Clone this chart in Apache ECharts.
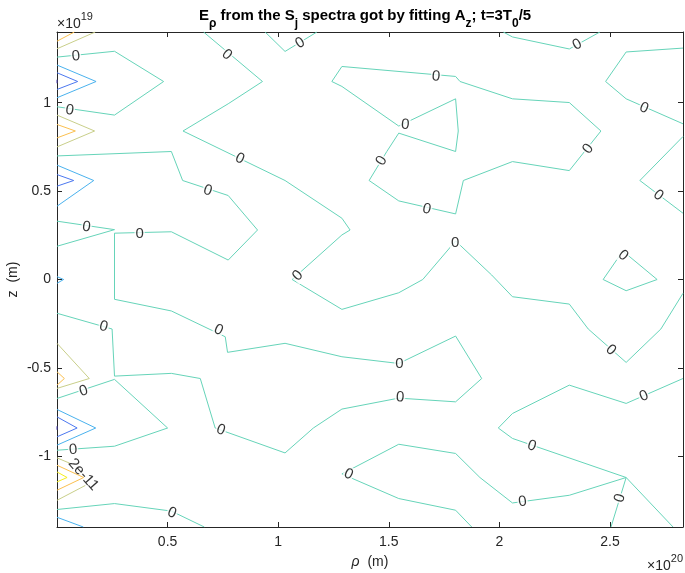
<!DOCTYPE html>
<html>
<head>
<meta charset="utf-8">
<script src="https://cdn.jsdelivr.net/npm/echarts@6/dist/echarts.min.js"></script>
<style>
  html, body { margin: 0; padding: 0; background: #fff; }
  #main { width: 685px; height: 573px; }
</style>
</head>
<body>
<div id="main"></div>
<script>
// contour polylines, rho in 1e20 m, z in 1e19 m
var zeroLines = [
    [[0, 1.258], [0.26, 1.291], [0.482, 1.12], [0.26, 0.930], [0, 0.977]],
    [[0, 0.699], [0.517, 0.724], [0.568, 0.56], [0.774, 0.475], [0.9065, 0.28], [0.774, 0.110], [0.517, 0.27],
     [0.26, 0.262], [0.26, -0.112], [0.517, -0.178], [0.7606, -0.324], [0.771, -0.412], [1.031, -0.361],
     [1.288, -0.437], [1.545, -0.475], [1.802, -0.320], [1.920, -0.56], [1.802, -0.692], [1.545, -0.671],
     [1.288, -0.733], [1.159, -0.84], [1.031, -0.981], [0.715, -0.84], [0.6477, -0.56], [0.517, -0.531],
     [0.26, -0.5465], [0.249, -0.28], [0, -0.191]],
    [[0, 0.330], [0.26, 0.282], [0, 0.188]],
    [[0, -0.673], [0.26, -0.565], [0.500, -0.84], [0.26, -0.943], [0, -0.9656]],
    [[0, -1.301], [0.26, -1.2675], [0.517, -1.31], [0.666, -1.4]],
    [[0.941, 1.4], [1.031, 1.290], [1.175, 1.4]],
    [[0.6626, 1.4], [0.929, 1.12], [0.774, 0.994], [0.5696, 0.84], [1.031, 0.56], [1.288, 0.3466], [1.325, 0.28],
     [1.288, 0.252], [1.063, 0], [1.288, -0.169], [1.545, -0.075], [1.6535, 0], [1.802, 0.218], [1.965, 0.0255],
     [2.059, -0.0974], [2.316, -0.139], [2.4016, -0.28], [2.573, -0.469], [2.730, -0.28], [2.83, -0.078]],
    [[1.545, 0.828], [1.802, 0.724], [1.814, 0.84], [1.802, 1.022], [1.545, 0.868], [1.288, 1.092], [1.2425, 1.12],
     [1.288, 1.205], [1.802, 1.1486], [1.822, 1.12], [2.059, 1.022], [2.316, 1.001], [2.459, 0.84], [2.316, 0.616],
     [2.059, 0.667], [1.837, 0.56], [1.802, 0.371], [1.545, 0.4446], [1.411, 0.56], [1.491, 0.724], [1.545, 0.828]],
    [[2.0176, 1.4], [2.059, 1.372], [2.316, 1.304], [2.4544, 1.4]],
    [[2.83, 1.309], [2.573, 1.287], [2.480, 1.12], [2.573, 1.022], [2.83, 0.8807]],
    [[2.83, 0.8088], [2.635, 0.56], [2.83, 0.375]],
    [[2.558, 0.161], [2.713, 0], [2.573, -0.0634], [2.469, 0], [2.558, 0.161]],
    [[1.875, -1.4], [1.802, -1.305], [1.545, -1.239], [1.288, -1.10], [1.545, -0.932], [1.802, -0.984], [1.912, -1.12],
     [2.059, -1.264], [2.316, -1.2205], [2.573, -1.12], [2.5045, -1.4]],
    [[2.83, -0.56], [2.573, -0.701], [2.316, -0.5975], [2.059, -0.758], [1.995, -0.84], [2.059, -0.899],
     [2.573, -1.12], [2.785, -1.4]]
];
var lightBlueLines = [
    [[0, 1.213], [0.1766, 1.12], [0, 1.028]],
    [[0, 0.647], [0.166, 0.56], [0, 0.4146]],
    [[0, 0.016], [0.030, 0], [0, -0.0215]],
    [[0, -0.735], [0.175, -0.84], [0, -0.937]],
    [[0, -1.345], [0.119, -1.4]]
];
var blueLines = [
    [[0, 1.1695], [0.0935, 1.12], [0, 1.075]],
    [[0, 0.5935], [0.0754, 0.56], [0, 0.528]],
    [[0, -0.777], [0.091, -0.84], [0, -0.890]]
];
var purpleLines = [
    [[0, 1.13], [0.008, 1.12], [0, 1.11]],
    [[0, -0.83], [0.008, -0.84], [0, -0.85]]
];
var oliveLines = [
    [[0, 1.305], [0.173, 1.4]],
    [[0, 0.930], [0.170, 0.84], [0, 0.750]],
    [[0, -0.361], [0.146, -0.56], [0, -0.616]],
    [[0, -1.009], [0.0574, -1.039]],
    [[0, -1.249], [0.128, -1.165]]
];
var orangeLines = [
    [[0, 1.348], [0.0786, 1.4]],
    [[0, 0.877], [0.083, 0.84], [0, 0.801]],
    [[0, -0.522], [0.0334, -0.56], [0, -0.5975]],
    [[0, -1.0506], [0.1206, -1.12], [0, -1.192]]
];
var yellowLines = [
    [[0, -1.0885], [0.0456, -1.12], [0, -1.145]]
];

// inline contour labels
var labelX = [0.0854, 0.0574, 0.681, 0.3735, 0.730, 1.548, 1.551, 0.741, 0.211, 0.133, 0.1206, 0.0727, 0.52,
    1.099, 0.768, 0.826, 1.089, 1.80, 2.504, 1.574, 1.7136, 2.4016, 1.672, 1.468, 2.352, 2.653, 2.718, 2.5596,
    1.3176, 2.105, 2.545, 2.653, 2.146, 0.119];
var labelY = [1.263, 0.957, 0.503, 0.258, -0.286, -0.4746, -0.667, -0.852, -0.267, 0.297, -0.631, -0.963, -1.32,
    1.338, 1.271, 0.684, 0.0215, 0.205, -0.399, 0.875, 1.1486, 0.739, 0.3976, 0.671, 1.328, 0.9696, 0.4757, 0.136,
    -1.1015, -1.258, -1.237, -0.660, -0.941, -1.104];
var labelText = ['0', '0', '0', '0', '0', '0', '0', '0', '0', '0', '0', '0', '0',
    '0', '0', '0', '0', '0', '0', '0', '0', '0', '0', '0', '0', '0', '0', '0',
    '0', '0', '0', '0', '0', '2e-11'];
var labelAngle = [6, -8, -18, 0, -25, 0, -3, -20, -15, -8, 18, 4, -22,
    31, -40, -26, 45, 0, -41, -5, -5, 51, -13, 59, 28, -23, -38, -40,
    -25, 8, 74, 23, -19, -48];

var xTicks = [0.5, 1, 1.5, 2, 2.5];

var font = 'Liberation Sans, Arial, Helvetica, sans-serif';
var axisColor = '#262626';

var levels = [
    { color: '#66d4b9', lines: zeroLines },
    { color: '#4ab2ee', lines: lightBlueLines },
    { color: '#4c78f0', lines: blueLines },
    { color: '#4a3fb5', lines: purpleLines },
    { color: '#c9cf8a', lines: oliveLines },
    { color: '#fbc050', lines: orangeLines },
    { color: '#f5ee1e', lines: yellowLines }
];

var series = [];
levels.forEach(function (lv) {
    lv.lines.forEach(function (pts) {
        series.push({
            type: 'line',
            data: pts,
            symbol: 'none',
            silent: true,
            z: 2,
            lineStyle: { color: lv.color, width: 1 }
        });
    });
});

series.push({
    type: 'scatter',
    symbolSize: 0,
    silent: true,
    z: 5,
    data: labelX.map(function (x, i) {
        return {
            value: [x, labelY[i]],
            label: {
                rotate: labelAngle[i],
                formatter: labelText[i],
                backgroundColor: labelText[i] === '0' ? '#fff' : 'transparent'
            }
        };
    }),
    label: {
        show: true,
        position: 'inside',
        color: '#000',
        fontFamily: font,
        fontSize: 15,
        lineHeight: 15,
        padding: [0, 1]
    }
});

var dom = document.getElementById('main');
var myChart = echarts.init(dom, null, { renderer: 'canvas' });

var subStyle = { fontSize: 12, fontWeight: 'bold', fontFamily: font, color: '#000', verticalAlign: 'bottom', lineHeight: 22 };
var mainStyle = { fontSize: 15, fontWeight: 'bold', fontFamily: font, color: '#000', verticalAlign: 'top', lineHeight: 17 };
var expRich = {
    m: { fontSize: 14, fontWeight: 'normal', fontFamily: font, color: axisColor, verticalAlign: 'bottom', lineHeight: 20 },
    p: { fontSize: 11, fontWeight: 'normal', fontFamily: font, color: axisColor, verticalAlign: 'top', lineHeight: 20 }
};

var option = {
    animation: false,
    backgroundColor: '#fff',
    title: [
        {
            text: '{b|E}{s|ρ}{b| from the S}{s|j}{b| spectra got by fitting A}{s|z}{b|; t=3T}{s|0}{b|/5}',
            left: 199,
            top: 8,
            padding: 0,
            textStyle: { rich: { b: mainStyle, s: subStyle } }
        },
        {
            text: '{m|×10}{p|19}',
            left: 57,
            top: 11,
            padding: 0,
            textStyle: { fontWeight: 'normal', rich: expRich }
        },
        {
            text: '{m|×10}{p|20}',
            right: 2,
            top: 553,
            padding: 0,
            textStyle: { fontWeight: 'normal', rich: expRich }
        }
    ],
    grid: { left: 57, right: 2, top: 32, bottom: 46, containLabel: false, outerBoundsMode: 'none' },
    xAxis: [
        {
            type: 'value',
            position: 'bottom',
            min: 0,
            max: 2.83,
            interval: 0.5,
            name: '{i|ρ}  (m)',
            nameLocation: 'middle',
            nameGap: 28,
            nameMoveOverlap: false,
            nameTextStyle: { fontFamily: font, fontSize: 14, color: axisColor,
                rich: { i: { fontStyle: 'italic', fontFamily: font, fontSize: 14, color: axisColor } } },
            axisLine: { show: true, onZero: false, lineStyle: { color: axisColor, width: 1 } },
            axisTick: { show: true, inside: true, length: 5, lineStyle: { color: axisColor } },
            axisLabel: {
                showMinLabel: false, showMaxLabel: false, margin: 8,
                fontFamily: font, fontSize: 14, color: axisColor,
                formatter: function (v) { return xTicks.indexOf(v) >= 0 ? String(v) : ''; }
            },
            splitLine: { show: false }
        },
        {
            type: 'value',
            position: 'top',
            min: 0,
            max: 2.83,
            interval: 0.5,
            axisLine: { show: true, onZero: false, lineStyle: { color: axisColor, width: 1 } },
            axisTick: { show: true, inside: true, length: 5, lineStyle: { color: axisColor } },
            axisLabel: { show: false },
            splitLine: { show: false }
        }
    ],
    yAxis: [
        {
            type: 'value',
            position: 'left',
            min: -1.4,
            max: 1.4,
            splitNumber: 5,
            name: 'z  (m)',
            nameLocation: 'middle',
            nameGap: 37,
            nameMoveOverlap: false,
            nameTextStyle: { fontFamily: font, fontSize: 14, color: axisColor },
            axisLine: { show: true, onZero: false, lineStyle: { color: axisColor, width: 1 } },
            axisTick: { show: true, inside: true, length: 5, lineStyle: { color: axisColor } },
            axisLabel: { showMinLabel: false, showMaxLabel: false, margin: 6,
                fontFamily: font, fontSize: 14, color: axisColor },
            splitLine: { show: false }
        },
        {
            type: 'value',
            position: 'right',
            min: -1.4,
            max: 1.4,
            splitNumber: 5,
            axisLine: { show: true, onZero: false, lineStyle: { color: axisColor, width: 1 } },
            axisTick: { show: true, inside: true, length: 5, lineStyle: { color: axisColor } },
            axisLabel: { show: false },
            splitLine: { show: false }
        }
    ],
    series: series
};

if (option && typeof option === 'object') {
    myChart.setOption(option);
}

window.addEventListener('resize', myChart.resize);
</script>
</body>
</html>
